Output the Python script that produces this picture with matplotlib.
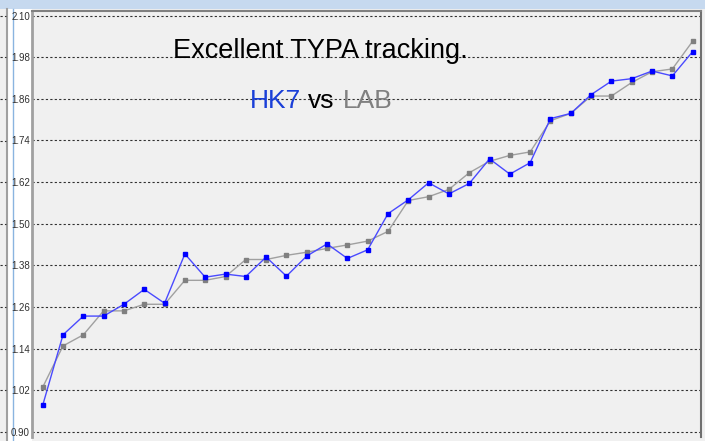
import matplotlib.pyplot as plt
import matplotlib.patches as patches
from matplotlib.lines import Line2D
import numpy as np

plt.rcParams['font.family'] = ['Liberation Sans', 'DejaVu Sans']

# values
hk7 = [0.977, 1.180, 1.234, 1.234, 1.268, 1.311, 1.271, 1.413, 1.346, 1.355,
       1.348, 1.404, 1.349, 1.407, 1.442, 1.400, 1.425, 1.529, 1.569, 1.618,
       1.586, 1.616, 1.687, 1.643, 1.676, 1.803, 1.818, 1.872, 1.911, 1.918,
       1.940, 1.926, 1.996]
lab = [1.029, 1.148, 1.180, 1.249, 1.249, 1.268, 1.268, 1.337, 1.337, 1.348,
       1.397, 1.397, 1.409, 1.418, 1.429, 1.439, 1.450, 1.478, 1.567, 1.578,
       1.599, 1.647, 1.680, 1.697, 1.707, 1.797, 1.818, 1.868, 1.868, 1.907,
       1.938, 1.946, 2.026]
yticks = [0.90, 1.02, 1.14, 1.26, 1.38, 1.50, 1.62, 1.74, 1.86, 1.98, 2.10]

W, H = 705, 441
fig = plt.figure(figsize=(W/100, H/100), dpi=100)
fig.patch.set_facecolor('#f0f0f0')

def fx(px):
    return px / W

def fy(py):
    return 1 - py / H

# window chrome: top bar, left panel strip (behind the axes)
fig.add_artist(patches.Rectangle((0, fy(9)), 1, 9/H, transform=fig.transFigure,
                                 facecolor='#c6d9ef', edgecolor='none', zorder=-2))
fig.add_artist(patches.Rectangle((fx(8), 0), 24/W, fy(9), transform=fig.transFigure,
                                 facecolor='white', edgecolor='none', zorder=-2))
fig.add_artist(Line2D([fx(7), fx(7)], [0, fy(9)], transform=fig.transFigure,
                      color='#a0a0a0', lw=1.5, zorder=-1))
fig.add_artist(Line2D([fx(12.5), fx(12.5)], [0, fy(9)], transform=fig.transFigure,
                      color='#8ab4e0', lw=1, zorder=-1))

x = np.arange(len(hk7))
ax = fig.add_axes([fx(32), fy(437), (701-32)/W, (437-11)/H])
ax.set_facecolor('#f0f0f0')
ax.plot(x, lab, '-s', color='#a0a0a0', mfc='#808080', mec='#808080', ms=2.6, lw=1)
ax.plot(x, hk7, '-s', color='#4a4aff', mfc='#0000ff', mec='#0000ff', ms=2.6, lw=1)

ax.set_xlim(-0.527, 32.41)
ax.set_ylim(0.8856, 2.113)
ax.set_xticks([])
ax.set_yticks(yticks)
ax.set_yticklabels(['%.2f' % v for v in yticks])
ax.tick_params(axis='y', length=0, pad=1.5, labelsize=7, labelcolor='#303030')
ax.grid(axis='y', color='#303030', ls=(0, (2, 2)), lw=0.8)

ax.spines['left'].set_color('#a0a0a0')
ax.spines['left'].set_linewidth(2)
ax.spines['top'].set_color('#808080')
ax.spines['top'].set_linewidth(1.5)
ax.spines['right'].set_color('#707070')
ax.spines['right'].set_linewidth(1.5)
ax.spines['bottom'].set_visible(False)

# grid stubs in the left strip
for v in yticks:
    py = 432 - (v - 0.90) * 347
    fig.add_artist(Line2D([0, fx(6)], [fy(py), fy(py)], transform=fig.transFigure,
                          color='#303030', ls=(0, (2, 2)), lw=0.8, zorder=-1))

fig.text(fx(320), fy(58), 'Excellent TYPA tracking.', ha='center', va='baseline',
         fontsize=19.5, color='black')
fig.text(fx(250), fy(108), 'HK7', ha='left', va='baseline', fontsize=19, color='#1a3fd8')
fig.text(fx(308), fy(108), 'vs', ha='left', va='baseline', fontsize=19, color='black')
fig.text(fx(343), fy(108), 'LAB', ha='left', va='baseline', fontsize=19, color='#808080')

fig.savefig('out.png', dpi=100)
